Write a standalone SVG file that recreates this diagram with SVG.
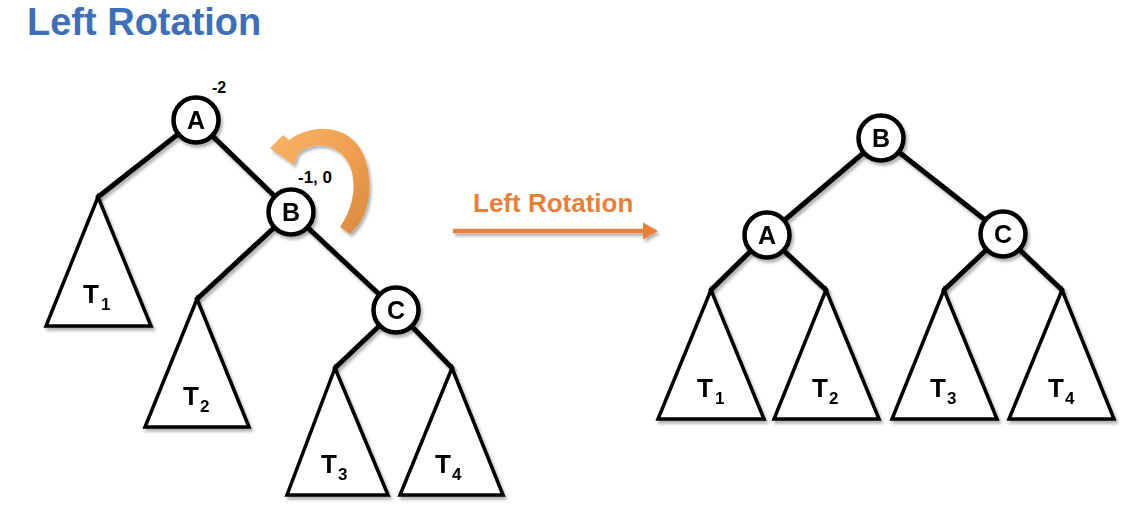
<svg xmlns="http://www.w3.org/2000/svg" width="1148" height="510" viewBox="0 0 1148 510">
<defs>
<style>
.edge{stroke:#000;stroke-width:5;stroke-linecap:round;fill:none}
.node circle{fill:#fff;stroke:#000;stroke-width:4.5}
.node text{font-family:"Liberation Sans",Arial,sans-serif;font-weight:bold;font-size:25px;text-anchor:middle;fill:#000}
.tri polygon{fill:#fff;stroke:#000;stroke-width:3.5;stroke-linejoin:miter}
.tri text{font-family:"Liberation Sans",Arial,sans-serif;font-weight:bold;font-size:26px;fill:#000}
.tri tspan.sub{font-size:17px}
.bf{font-family:"Liberation Sans",Arial,sans-serif;font-weight:bold;fill:#000}
</style>
<filter id="sh" x="-20%" y="-20%" width="150%" height="150%">
<feDropShadow dx="2" dy="3" stdDeviation="1.8" flood-color="#000" flood-opacity="0.3"/>
</filter>
<linearGradient id="og" x1="0" y1="0" x2="1" y2="1">
<stop offset="0" stop-color="#f7b567"/>
<stop offset="0.5" stop-color="#f0a050"/>
<stop offset="1" stop-color="#d9893f"/>
</linearGradient>
</defs>
<rect width="1148" height="510" fill="#fff"/>
<text x="27" y="35" font-family="Liberation Sans,Arial,sans-serif" font-weight="bold" font-size="38" fill="#3e6fb7">Left Rotation</text>

<g id="connectors" filter="url(#sh)">
<line class="edge" x1="196" y1="120" x2="98" y2="197"/>
<line class="edge" x1="196" y1="120" x2="291" y2="212"/>
<line class="edge" x1="291" y1="212" x2="197" y2="299"/>
<line class="edge" x1="291" y1="212" x2="396" y2="310"/>
<line class="edge" x1="396" y1="310" x2="335" y2="368"/>
<line class="edge" x1="396" y1="310" x2="452" y2="368"/>
<line class="edge" x1="881" y1="138" x2="767" y2="235"/>
<line class="edge" x1="881" y1="138" x2="1003" y2="234"/>
<line class="edge" x1="767" y1="235" x2="711" y2="290"/>
<line class="edge" x1="767" y1="235" x2="826" y2="290"/>
<line class="edge" x1="1003" y1="234" x2="944" y2="290"/>
<line class="edge" x1="1003" y1="234" x2="1062" y2="290"/>
</g>

<g id="left-T1" class="tri" filter="url(#sh)"><polygon points="98,197 46,326 151,326"/><text x="83" y="303">T<tspan class="sub" dx="2" dy="7">1</tspan></text></g>
<g id="left-T2" class="tri" filter="url(#sh)"><polygon points="197,299 145,427 249,427"/><text x="183" y="405">T<tspan class="sub" dx="1" dy="7">2</tspan></text></g>
<g id="left-T3" class="tri" filter="url(#sh)"><polygon points="335,368 287,495 388,495"/><text x="321" y="473">T<tspan class="sub" dx="1" dy="7">3</tspan></text></g>
<g id="left-T4" class="tri" filter="url(#sh)"><polygon points="452,368 400,495 503,495"/><text x="435" y="473">T<tspan class="sub" dx="1" dy="7">4</tspan></text></g>

<g id="left-A" class="node" filter="url(#sh)"><circle cx="196" cy="120" r="22.5"/><text x="196" y="129">A</text></g>
<g id="left-B" class="node" filter="url(#sh)"><circle cx="291" cy="212" r="22.5"/><text x="291" y="221">B</text></g>
<g id="left-C" class="node" filter="url(#sh)"><circle cx="396" cy="310" r="22.5"/><text x="396" y="319">C</text></g>

<text class="bf" x="212" y="93" font-size="16">-2</text>
<text class="bf" x="298" y="183" font-size="17">-1, 0</text>

<g id="curved-arrow" filter="url(#sh)">
<path fill="url(#og)" d="M270,148 L283,135 L289,140 C315,121 357,124 367,165 C374,195 366,220 350,234 L340,227 C352,210 356,190 352,172 C344,145 318,138 298,153 L294,165 Z"/>
</g>

<g id="rotation-arrow" filter="url(#sh)">
<line x1="453" y1="231" x2="646" y2="231" stroke="#e8803a" stroke-width="4.5"/>
<polygon points="643,222.5 658,231 643,239.5" fill="#e8803a"/>
</g>
<text x="473" y="212" font-family="Liberation Sans,Arial,sans-serif" font-weight="bold" font-size="26" fill="#e8803a">Left Rotation</text>

<g id="right-T1" class="tri" filter="url(#sh)"><polygon points="711,290 658,419 764,419"/><text x="697" y="397">T<tspan class="sub" dx="2" dy="7">1</tspan></text></g>
<g id="right-T2" class="tri" filter="url(#sh)"><polygon points="826,290 774,419 879,419"/><text x="812" y="397">T<tspan class="sub" dx="1" dy="7">2</tspan></text></g>
<g id="right-T3" class="tri" filter="url(#sh)"><polygon points="944,290 892,419 997,419"/><text x="930" y="397">T<tspan class="sub" dx="1" dy="7">3</tspan></text></g>
<g id="right-T4" class="tri" filter="url(#sh)"><polygon points="1062,290 1009,419 1114,419"/><text x="1048" y="397">T<tspan class="sub" dx="1" dy="7">4</tspan></text></g>

<g id="right-B" class="node" filter="url(#sh)"><circle cx="881" cy="138" r="22.5"/><text x="881" y="147">B</text></g>
<g id="right-A" class="node" filter="url(#sh)"><circle cx="767" cy="235" r="22.5"/><text x="767" y="244">A</text></g>
<g id="right-C" class="node" filter="url(#sh)"><circle cx="1003" cy="234" r="22.5"/><text x="1003" y="243">C</text></g>
</svg>
